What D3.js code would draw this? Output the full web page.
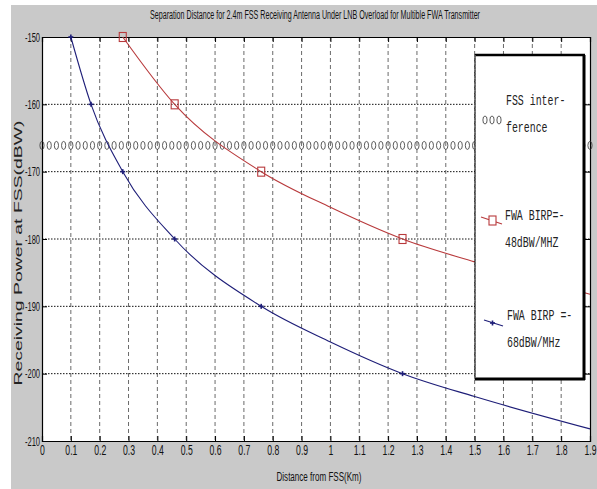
<html>
<head>
  <script src="https://d3js.org/d3.v7.min.js"></script>
  <style>
  body{ margin:0; background:#fff; }
  svg{ display:block; }
  </style>
</head>
<body>
<script type="text/javascript">
  // values
  var xTicks=[0,0.1,0.2,0.3,0.4,0.5,0.6,0.7,0.8,0.9,1,1.1,1.2,1.3,1.4,1.5,1.6,1.7,1.8,1.9];
  var yTicks=[-150,-160,-170,-180,-190,-200,-210];

  var blueX=[0.1,0.17,0.28,0.46,0.76,1.0,1.25,1.5,1.9];
  var blueY=[-150,-160,-170,-180,-190,-195.3,-200,-203.4,-208.2];
  var blueMarkX=[0.1,0.17,0.28,0.46,0.76,1.25];
  var blueMarkY=[-150,-160,-170,-180,-190,-200];

  var redX=[0.28,0.46,0.76,1.0,1.25,1.5,1.9];
  var redY=[-150,-160,-170,-175.3,-180,-183.4,-188.2];
  var redMarkX=[0.28,0.46,0.76,1.25];
  var redMarkY=[-150,-160,-170,-180];

  var fssLevel=-166.1;
  var fssStep=0.025;

  var title="Separation Distance for 2.4m FSS Receiving Antenna Under LNB Overload for Multible FWA Transmitter";
  var xLabel="Distance from FSS(Km)";
  var yLabel="Receiving Power at FSS(dBW)";

  var width=597, height=489;
  var pL=42, pR=590, pT=37, pB=441;
  var squeeze=0.58;
  var blue="#1e1e78", red="#b83a3c";

  var svg=d3.select("body").append("svg")
            .attr("width",width)
            .attr("height",height);

  svg.append("rect").attr("x",11).attr("y",5)
     .attr("width",width-11).attr("height",height-5)
     .attr("fill","#c9c9c9");

  var x=d3.scaleLinear().domain([0,1.9]).range([pL,pR]);
  var y=d3.scaleLinear().domain([-210,-150]).range([pB,pT]);

  svg.append("rect").attr("x",pL).attr("y",pT)
     .attr("width",pR-pL).attr("height",pB-pT)
     .attr("fill","#fff");

  // grid
  svg.append("g").selectAll("line")
     .data(xTicks.slice(1,-1))
     .enter().append("line")
     .attr("x1",function(d){ return x(d) }).attr("x2",function(d){ return x(d) })
     .attr("y1",pT).attr("y2",pB)
     .attr("stroke","#444").attr("stroke-width",0.8)
     .attr("stroke-dasharray","4,3");
  svg.append("g").selectAll("line")
     .data(yTicks.slice(1,-1))
     .enter().append("line")
     .attr("x1",pL).attr("x2",pR)
     .attr("y1",function(d){ return y(d) }).attr("y2",function(d){ return y(d) })
     .attr("stroke","#111").attr("stroke-width",1)
     .attr("stroke-dasharray","1.5,1.5");

  // axes
  var fmt=function(d){ return String(d) };
  var gx=svg.append("g").attr("transform","translate(0,"+pB+")")
     .call(d3.axisBottom(x).tickValues(xTicks).tickFormat(fmt).tickSize(-5).tickPadding(4));
  var gy=svg.append("g").attr("transform","translate("+pL+",0)")
     .call(d3.axisLeft(y).tickValues(yTicks).tickFormat(fmt).tickSize(-5).tickPadding(2));
  var gt=svg.append("g").attr("transform","translate(0,"+pT+")")
     .call(d3.axisTop(x).tickValues(xTicks).tickFormat("").tickSize(-5));
  var gr=svg.append("g").attr("transform","translate("+pR+",0)")
     .call(d3.axisRight(y).tickValues(yTicks).tickFormat("").tickSize(-5));

  [gx,gy,gt,gr].forEach(function(g){
    g.select(".domain").attr("stroke","#000").attr("stroke-width",1.2);
    g.selectAll(".tick line").attr("stroke","#000");
    g.selectAll("text")
     .attr("font-family","Liberation Sans, Arial, sans-serif")
     .attr("font-size",13)
     .attr("fill","#111");
  });
  gx.selectAll("text").attr("font-size",14).attr("transform","scale(0.62,1)");
  gy.selectAll("text").attr("x",-2/squeeze).attr("transform","scale("+squeeze+",1)");

  // FSS interference markers
  var fssX=d3.range(0,1.9+1e-9,fssStep);
  svg.append("g").selectAll("ellipse")
     .data(fssX)
     .enter().append("ellipse")
     .attr("cx",function(d){ return x(d) })
     .attr("cy",y(fssLevel))
     .attr("rx",2.1).attr("ry",4)
     .attr("fill","none").attr("stroke","#333").attr("stroke-width",0.8);

  var line=d3.line()
             .x(function(d){ return x(d[0]) })
             .y(function(d){ return y(d[1]) })
             .curve(d3.curveMonotoneX);

  // red series
  svg.append("path")
     .attr("d",line(d3.zip(redX,redY)))
     .attr("fill","none").attr("stroke",red).attr("stroke-width",1.1);
  svg.append("g").selectAll("rect")
     .data(d3.zip(redMarkX,redMarkY))
     .enter().append("rect")
     .attr("x",function(d){ return x(d[0])-3.5 })
     .attr("y",function(d){ return y(d[1])-4.5 })
     .attr("width",7).attr("height",9)
     .attr("fill","none").attr("stroke",red).attr("stroke-width",1.1);

  // blue series
  svg.append("path")
     .attr("d",line(d3.zip(blueX,blueY)))
     .attr("fill","none").attr("stroke",blue).attr("stroke-width",1.1);
  var plus=svg.append("g").selectAll("g")
     .data(d3.zip(blueMarkX,blueMarkY))
     .enter().append("g")
     .attr("transform",function(d){ return "translate("+x(d[0])+","+y(d[1])+")" });
  plus.append("line").attr("x1",-2.5).attr("x2",2.5).attr("stroke",blue).attr("stroke-width",1.6);
  plus.append("line").attr("y1",-2.5).attr("y2",2.5).attr("stroke",blue).attr("stroke-width",1.6);

  // legend
  var lg=svg.append("g");
  var lx0=475, ly0=55, lx1=584, ly1=379;
  lg.append("rect").attr("x",lx0).attr("y",ly0)
    .attr("width",lx1-lx0).attr("height",ly1-ly0)
    .attr("fill","#fff").attr("stroke","#000").attr("stroke-width",1);
  lg.append("line").attr("x1",lx0).attr("x2",lx1+1).attr("y1",ly0).attr("y2",ly0)
    .attr("stroke","#000").attr("stroke-width",2.5);
  lg.append("line").attr("x1",lx1).attr("x2",lx1).attr("y1",ly0).attr("y2",ly1+1)
    .attr("stroke","#000").attr("stroke-width",3);
  lg.append("line").attr("x1",lx0).attr("x2",lx1+1).attr("y1",ly1).attr("y2",ly1)
    .attr("stroke","#000").attr("stroke-width",3);
  lg.append("line").attr("x1",lx0).attr("x2",lx0).attr("y1",ly0).attr("y2",ly1)
    .attr("stroke","#666").attr("stroke-width",1.5).attr("stroke-dasharray","2,1");

  [485,492,499].forEach(function(cx){
    lg.append("ellipse").attr("cx",cx).attr("cy",120).attr("rx",2.1).attr("ry",4)
      .attr("fill","none").attr("stroke","#333").attr("stroke-width",0.8);
  });
  lg.append("line").attr("x1",481).attr("x2",502).attr("y1",217).attr("y2",224)
    .attr("stroke",red).attr("stroke-width",1.1);
  lg.append("rect").attr("x",489).attr("y",216).attr("width",7).attr("height",9)
    .attr("fill","#fff").attr("stroke",red).attr("stroke-width",1.1);
  lg.append("line").attr("x1",484).attr("x2",503).attr("y1",320).attr("y2",326)
    .attr("stroke",blue).attr("stroke-width",1.1);
  lg.append("line").attr("x1",490).attr("x2",495).attr("y1",323).attr("y2",323)
    .attr("stroke",blue).attr("stroke-width",1.6);
  lg.append("line").attr("x1",492.5).attr("x2",492.5).attr("y1",320.5).attr("y2",325.5)
    .attr("stroke",blue).attr("stroke-width",1.6);

  var legendText=[
    {t:"FSS inter-",x:506,y:105},
    {t:"ference",x:506,y:132},
    {t:"FWA BIRP=-",x:505,y:220},
    {t:"48dBW/MHZ",x:505,y:247},
    {t:"FWA BIRP =-",x:507,y:320},
    {t:"68dBW/MHz",x:507,y:347}
  ];
  lg.selectAll("text.lt")
    .data(legendText)
    .enter().append("text")
    .attr("class","lt")
    .attr("transform",function(d){ return "translate("+d.x+","+d.y+") scale(0.66,1)" })
    .attr("font-family","Liberation Mono, Courier New, monospace")
    .attr("font-size",15)
    .attr("fill","#222")
    .text(function(d){ return d.t });

  // titles
  svg.append("text").attr("x",315).attr("y",19)
     .attr("text-anchor","middle")
     .attr("font-family","Liberation Sans, Arial, sans-serif")
     .attr("font-size",12)
     .attr("textLength",330).attr("lengthAdjust","spacingAndGlyphs")
     .attr("fill","#111")
     .text(title);
  svg.append("text").attr("x",319).attr("y",481)
     .attr("text-anchor","middle")
     .attr("font-family","Liberation Sans, Arial, sans-serif")
     .attr("font-size",12)
     .attr("textLength",85).attr("lengthAdjust","spacingAndGlyphs")
     .attr("fill","#111")
     .text(xLabel);
  svg.append("text")
     .attr("transform","translate(22,253) rotate(-90)")
     .attr("text-anchor","middle")
     .attr("font-family","Liberation Sans, Arial, sans-serif")
     .attr("font-size",11.5)
     .attr("textLength",265).attr("lengthAdjust","spacingAndGlyphs")
     .attr("fill","#222")
     .text(yLabel);
</script>
</body>
</html>
